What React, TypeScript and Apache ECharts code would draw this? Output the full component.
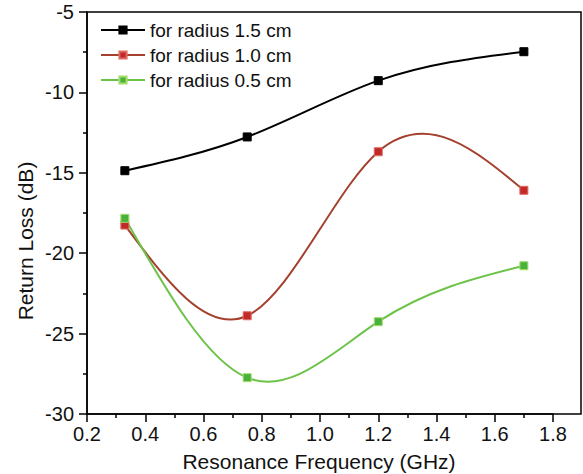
import React, { useEffect, useRef } from "react";
import * as echarts from "echarts";

const frequencies = [0.33, 0.75, 1.2, 1.7];
const radius15 = [-14.87, -12.77, -9.27, -7.47];
const radius10 = [-18.25, -23.89, -13.69, -16.09];
const radius05 = [-17.83, -27.74, -24.26, -20.78];
const seriesNames = ["for radius 1.5 cm", "for radius 1.0 cm", "for radius 0.5 cm"];

const FONT = "'Liberation Sans', Arial, sans-serif";

// Natural cubic spline slopes at the knots (used to draw exact Bezier segments)
function splineSlopes(xs: number[], ys: number[]): number[] {
  const n = xs.length;
  const h: number[] = [];
  for (let i = 0; i < n - 1; i++) h.push(xs[i + 1] - xs[i]);
  const a: number[] = new Array(n).fill(0);
  const b: number[] = new Array(n).fill(1);
  const c: number[] = new Array(n).fill(0);
  const d: number[] = new Array(n).fill(0);
  for (let i = 1; i < n - 1; i++) {
    a[i] = h[i - 1];
    b[i] = 2 * (h[i - 1] + h[i]);
    c[i] = h[i];
    d[i] = 6 * ((ys[i + 1] - ys[i]) / h[i] - (ys[i] - ys[i - 1]) / h[i - 1]);
  }
  const cp = new Array(n).fill(0);
  const dp = new Array(n).fill(0);
  cp[0] = c[0] / b[0];
  dp[0] = d[0] / b[0];
  for (let i = 1; i < n; i++) {
    const m = b[i] - a[i] * cp[i - 1];
    cp[i] = c[i] / m;
    dp[i] = (d[i] - a[i] * dp[i - 1]) / m;
  }
  const M = new Array(n).fill(0);
  M[n - 1] = dp[n - 1];
  for (let i = n - 2; i >= 0; i--) M[i] = dp[i] - cp[i] * M[i + 1];
  const slopes: number[] = [];
  for (let i = 0; i < n; i++) {
    if (i < n - 1) {
      slopes.push((ys[i + 1] - ys[i]) / h[i] - (h[i] * (2 * M[i] + M[i + 1])) / 6);
    } else {
      slopes.push((ys[i] - ys[i - 1]) / h[i - 1] + (h[i - 1] * (M[i - 1] + 2 * M[i])) / 6);
    }
  }
  return slopes;
}

export default function App() {
  const ref = useRef<HTMLDivElement>(null);
  useEffect(() => {
    if (!ref.current) return;
    const chart = echarts.init(ref.current, null, { renderer: "svg" });
    const pair = (ys: number[]) => frequencies.map((x, i) => [x, ys[i]]);

    const curve = (ys: number[], color: string) => {
      const m = splineSlopes(frequencies, ys);
      return {
        type: "custom",
        silent: true,
        z: 1,
        data: pair(ys),
        renderItem: (params: any, api: any) => {
          const i = params.dataIndex;
          if (i >= frequencies.length - 1) return null;
          const x0 = frequencies[i];
          const x1 = frequencies[i + 1];
          const h = x1 - x0;
          const p0 = api.coord([x0, ys[i]]);
          const p1 = api.coord([x1, ys[i + 1]]);
          const c0 = api.coord([x0 + h / 3, ys[i] + (m[i] * h) / 3]);
          const c1 = api.coord([x1 - h / 3, ys[i + 1] - (m[i + 1] * h) / 3]);
          return {
            type: "bezierCurve",
            shape: {
              x1: p0[0], y1: p0[1], x2: p1[0], y2: p1[1],
              cpx1: c0[0], cpy1: c0[1], cpx2: c1[0], cpy2: c1[1],
            },
            style: { stroke: color, lineWidth: 2, fill: null },
          };
        },
      };
    };

    const markers = (name: string, ys: number[], line: string, marker: string, border: string) => ({
      name,
      type: "line",
      data: pair(ys),
      z: 3,
      symbol: "rect",
      symbolSize: 8,
      lineStyle: { color: line, width: 2, opacity: 0 },
      itemStyle: { color: marker, borderColor: border, borderWidth: 1 },
    });

    chart.setOption({
      animation: false,
      backgroundColor: "#ffffff",
      grid: { left: 87, top: 12, width: 466, height: 402 },
      legend: {
        orient: "vertical",
        left: 95,
        top: 15,
        itemWidth: 44,
        itemHeight: 9,
        itemGap: 5,
        data: seriesNames,
        lineStyle: { opacity: 1, width: 2 },
        textStyle: { fontFamily: FONT, fontSize: 19, color: "#111", lineHeight: 20 },
      },
      xAxis: {
        type: "value",
        min: 0.2,
        max: 1.8,
        interval: 0.2,
        axisLine: { show: true, lineStyle: { color: "#000", width: 1.5 } },
        axisTick: { show: true, length: 8, lineStyle: { color: "#000", width: 1.5 } },
        minorTick: { show: true, splitNumber: 2, length: 4, lineStyle: { color: "#000", width: 1.5 } },
        splitLine: { show: false },
        axisLabel: {
          margin: 10,
          fontFamily: FONT,
          fontSize: 20,
          color: "#111",
          formatter: (v: number) => v.toFixed(1),
        },
      },
      yAxis: {
        type: "value",
        min: -30,
        max: -5,
        interval: 5,
        axisLine: { show: true, lineStyle: { color: "#000", width: 1.5 } },
        axisTick: { show: true, length: 8, lineStyle: { color: "#000", width: 1.5 } },
        minorTick: { show: true, splitNumber: 2, length: 4, lineStyle: { color: "#000", width: 1.5 } },
        splitLine: { show: false },
        axisLabel: { margin: 13, fontFamily: FONT, fontSize: 20, color: "#111" },
      },
      graphic: [
        {
          type: "rect",
          shape: { x: 87, y: 12, width: 494, height: 402 },
          style: { fill: "none", stroke: "#000", lineWidth: 1.5 },
          silent: true,
          z: 10,
        },
        {
          type: "text",
          x: 319,
          y: 461,
          style: {
            text: "Resonance Frequency (GHz)",
            fontFamily: FONT,
            fontSize: 21,
            fill: "#111",
            align: "center",
            verticalAlign: "middle",
          },
        },
        {
          type: "text",
          x: 25,
          y: 241,
          rotation: Math.PI / 2,
          style: {
            text: "Return Loss (dB)",
            fontFamily: FONT,
            fontSize: 21,
            fill: "#111",
            align: "center",
            verticalAlign: "middle",
          },
        },
      ],
      series: [
        curve(radius15, "#000000"),
        curve(radius10, "#a4402e"),
        curve(radius05, "#6cc348"),
        markers(seriesNames[0], radius15, "#000000", "#000000", "#000000"),
        markers(seriesNames[1], radius10, "#a4402e", "#c22a2a", "#e06a60"),
        markers(seriesNames[2], radius05, "#6cc348", "#48b23c", "#a6dc6a"),
      ],
    });
    return () => chart.dispose();
  }, []);
  return <div ref={ref} style={{ width: 583, height: 474, position: "absolute", left: 0, top: 0 }} />;
}
